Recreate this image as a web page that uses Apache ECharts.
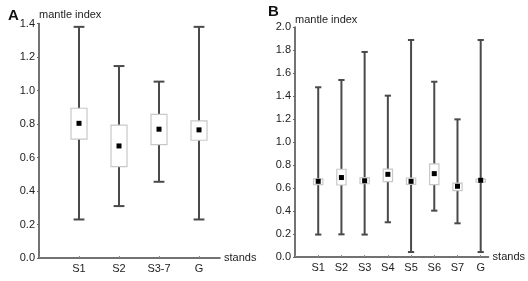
<!DOCTYPE html>
<html>
<head>
<meta charset="utf-8">
<script src="https://cdn.jsdelivr.net/npm/echarts@6/dist/echarts.min.js"></script>
<style>
    html,body{margin:0;padding:0;background:#fff;}
    #chart{width:528px;height:281px;}
</style>
</head>
<body>
<div id="chart"></div>
<script>
    // panel A
    const catsA = ['S1', 'S2', 'S3-7', 'G']
    const minA  = [0.23, 0.31, 0.455, 0.23]
    const q1A   = [0.71, 0.545, 0.677, 0.703]
    const q3A   = [0.894, 0.793, 0.857, 0.819]
    const maxA  = [1.38, 1.146, 1.053, 1.38]
    const meanA = [0.804, 0.669, 0.769, 0.765]

    // panel B
    const catsB = ['S1', 'S2', 'S3', 'S4', 'S5', 'S6', 'S7', 'G']
    const minB  = [0.195, 0.197, 0.195, 0.302, 0.043, 0.403, 0.293, 0.043]
    const q1B   = [0.63, 0.626, 0.637, 0.655, 0.632, 0.629, 0.577, 0.65]
    const q3B   = [0.68, 0.763, 0.69, 0.765, 0.687, 0.809, 0.643, 0.678]
    const maxB  = [1.476, 1.539, 1.783, 1.403, 1.887, 1.524, 1.197, 1.887]
    const meanB = [0.658, 0.691, 0.663, 0.719, 0.658, 0.725, 0.615, 0.667]

    const font = 'Liberation Sans, Arial, sans-serif'

    const rows = (mn, q1, q3, mx, mean) =>
        mn.map((v, i) => [i + 1, v, q1[i], q3[i], mx[i], mean[i]])

    function renderBox(params, api) {
        const x = api.value(0)
        const pMin = api.coord([x, api.value(1)])
        const pQ1 = api.coord([x, api.value(2)])
        const pQ3 = api.coord([x, api.value(3)])
        const pMax = api.coord([x, api.value(4)])
        const pMean = api.coord([x, api.value(5)])
        const bw = api.size([0.4, 0])[0]
        const cw = api.size([0.27, 0])[0]
        const cx = pMin[0]
        const lineStyle = { stroke: '#4a4a4a', lineWidth: 2 }
        return {
            type: 'group',
            children: [
                { type: 'line', shape: { x1: cx, y1: pMin[1], x2: cx, y2: pMax[1] }, style: lineStyle },
                { type: 'line', shape: { x1: cx - cw / 2, y1: pMin[1], x2: cx + cw / 2, y2: pMin[1] }, style: lineStyle },
                { type: 'line', shape: { x1: cx - cw / 2, y1: pMax[1], x2: cx + cw / 2, y2: pMax[1] }, style: lineStyle },
                { type: 'rect', shape: { x: cx - bw / 2, y: pQ3[1], width: bw, height: pQ1[1] - pQ3[1] },
                  style: { fill: '#fff', stroke: '#c8c8c8', lineWidth: 1.2 } },
                { type: 'rect', shape: { x: cx - 2.5, y: pMean[1] - 2.5, width: 5, height: 5 },
                  style: { fill: '#000' } }
            ]
        }
    }

    const yAxisBase = (max) => ({
        type: 'value',
        min: 0,
        max: max,
        interval: 0.2,
        name: 'mantle index',
        nameLocation: 'end',
        nameGap: 3,
        nameTextStyle: { color: '#222', fontSize: 11, fontFamily: font, align: 'left', verticalAlign: 'bottom' },
        splitLine: { show: false },
        axisLine: { show: true, lineStyle: { color: '#444', width: 1.5 } },
        axisTick: { show: true, length: 2, lineStyle: { color: '#666' } },
        axisLabel: { color: '#222', fontSize: 11, fontFamily: font, margin: 4,
                     formatter: v => v.toFixed(1) }
    })

    const xAxisBase = (cats, max) => ({
        type: 'value',
        min: 0,
        max: max,
        interval: 1,
        name: 'stands',
        nameLocation: 'end',
        nameGap: 4,
        nameTextStyle: { color: '#222', fontSize: 11, fontFamily: font, padding: [0, 0, 6, 0] },
        splitLine: { show: false },
        axisLine: { show: true, lineStyle: { color: '#444', width: 1.5 } },
        axisTick: { show: true, inside: true, length: 2, lineStyle: { color: '#888' } },
        axisLabel: { color: '#222', fontSize: 11, fontFamily: font, margin: 5,
                     showMaxLabel: false, formatter: v => cats[v - 1] || '' }
    })

    const chart = echarts.init(document.getElementById('chart'))
    chart.setOption({
        animation: false,
        grid: [
            { left: 39, top: 23.5, width: 181, height: 234.5 },
            { left: 295, top: 27, width: 196, height: 230 }
        ],
        xAxis: [
            Object.assign(xAxisBase(catsA, 4.525), { gridIndex: 0 }),
            Object.assign(xAxisBase(catsB, 8.34), { gridIndex: 1 })
        ],
        yAxis: [
            Object.assign(yAxisBase(1.4), { gridIndex: 0 }),
            Object.assign(yAxisBase(2.0), { gridIndex: 1, nameGap: 2 })
        ],
        graphic: [
            { type: 'text', left: 8, top: 8, style: { text: 'A', font: 'bold 15px ' + font, fill: '#111' } },
            { type: 'text', left: 268, top: 4, style: { text: 'B', font: 'bold 15px ' + font, fill: '#111' } }
        ],
        series: [
            {
                type: 'custom',
                xAxisIndex: 0,
                yAxisIndex: 0,
                renderItem: renderBox,
                encode: { x: 0, y: [1, 2, 3, 4, 5] },
                data: rows(minA, q1A, q3A, maxA, meanA)
            },
            {
                type: 'custom',
                xAxisIndex: 1,
                yAxisIndex: 1,
                renderItem: renderBox,
                encode: { x: 0, y: [1, 2, 3, 4, 5] },
                data: rows(minB, q1B, q3B, maxB, meanB)
            }
        ]
    })
</script>
</body>
</html>
